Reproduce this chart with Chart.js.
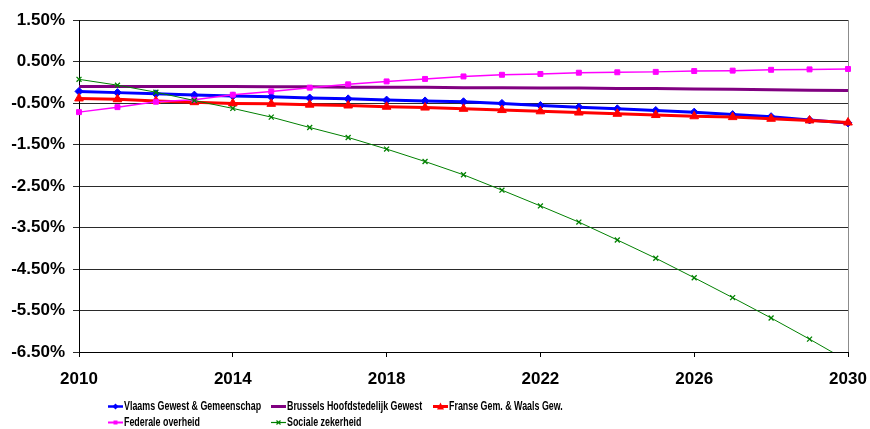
<!DOCTYPE html>
<html>
<head>
<meta charset="utf-8">
<script src="https://cdn.jsdelivr.net/npm/chart.js@4.4.1/dist/chart.umd.min.js"></script>
<style>
    html, body { margin: 0; padding: 0; background: #fff; }
    #wrap { position: relative; width: 870px; height: 429px; }
    #legend { position: absolute; left: 0; top: 0; width: 870px; height: 429px; pointer-events: none;
        font-family: 'Liberation Sans', Arial, sans-serif; font-weight: bold; font-size: 12.5px; color: #000; }
    .item { position: absolute; height: 14px; display: flex; align-items: center; white-space: nowrap; }
    .item svg { margin-right: 1px; flex: none; }
    .item span { display: inline-block; transform: scaleX(0.71); transform-origin: left center; }
</style>
</head>
<body>
<div id="wrap">
    <canvas id="chart" width="870" height="429"></canvas>
    <div id="legend"></div>
</div>
<script>
const years = ['2010', '2011', '2012', '2013', '2014', '2015', '2016', '2017', '2018', '2019', '2020',
    '2021', '2022', '2023', '2024', '2025', '2026', '2027', '2028', '2029', '2030'];

const vlaams = [-0.22, -0.25, -0.28, -0.31, -0.33, -0.35, -0.38, -0.40, -0.43, -0.45, -0.47,
    -0.51, -0.56, -0.60, -0.64, -0.68, -0.72, -0.78, -0.83, -0.91, -0.98];
const brussels = [-0.10, -0.10, -0.10, -0.10, -0.10, -0.11, -0.11, -0.12, -0.12, -0.12, -0.13,
    -0.13, -0.14, -0.14, -0.15, -0.15, -0.16, -0.17, -0.18, -0.19, -0.20];
const franse = [-0.39, -0.41, -0.45, -0.48, -0.51, -0.52, -0.54, -0.56, -0.59, -0.61, -0.64,
    -0.67, -0.70, -0.73, -0.76, -0.79, -0.82, -0.84, -0.88, -0.92, -0.97];
const federale = [-0.72, -0.60, -0.47, -0.42, -0.30, -0.22, -0.13, -0.05, 0.02, 0.08, 0.14,
    0.18, 0.20, 0.23, 0.24, 0.25, 0.27, 0.28, 0.30, 0.31, 0.32];
const sociale = [0.07, -0.07, -0.24, -0.44, -0.63, -0.84, -1.09, -1.33, -1.61, -1.91, -2.23,
    -2.60, -2.98, -3.37, -3.80, -4.24, -4.71, -5.19, -5.68, -6.19, -6.72];

const yMin = -6.5;
const yMax = 1.5;

const tickFont = { family: "'Liberation Sans', Arial, sans-serif", size: 17, weight: 'bold' };

const ctx = document.getElementById('chart').getContext('2d');

new Chart(ctx, {
    type: 'line',
    data: {
        labels: years,
        datasets: [{
            label: 'Vlaams Gewest & Gemeenschap',
            data: vlaams,
            borderColor: '#0000ff',
            backgroundColor: '#0000ff',
            borderWidth: 3,
            pointStyle: 'rectRot',
            pointRadius: 4,
            pointBorderWidth: 1,
            order: 5,
            clip: false
        }, {
            label: 'Brussels Hoofdstedelijk Gewest',
            data: brussels,
            borderColor: '#800080',
            backgroundColor: '#800080',
            borderWidth: 3,
            pointRadius: 0,
            order: 4,
            clip: false
        }, {
            label: 'Franse Gem. & Waals Gew.',
            data: franse,
            borderColor: '#ff0000',
            backgroundColor: '#ff0000',
            borderWidth: 3,
            pointStyle: 'triangle',
            pointRadius: 5,
            pointBorderWidth: 1,
            order: 3,
            clip: false
        }, {
            label: 'Federale overheid',
            data: federale,
            borderColor: '#ff00ff',
            backgroundColor: '#ff00ff',
            borderWidth: 1.5,
            pointStyle: 'rect',
            pointRadius: 3.5,
            pointBorderWidth: 1,
            order: 2,
            clip: false
        }, {
            label: 'Sociale zekerheid',
            data: sociale,
            borderColor: '#008000',
            backgroundColor: '#008000',
            borderWidth: 1,
            pointStyle: 'crossRot',
            pointRadius: 3.5,
            pointBorderWidth: 1.3,
            order: 1,
            clip: { left: 10, right: 10, top: 10, bottom: 0 }
        }]
    },
    options: {
        responsive: false,
        animation: false,
        layout: {
            padding: { left: 0, right: 22, top: 20, bottom: 37 }
        },
        plugins: {
            legend: { display: false },
            tooltip: { enabled: false }
        },
        elements: {
            line: { tension: 0 }
        },
        scales: {
            x: {
                type: 'category',
                offset: false,
                border: { color: '#000', width: 1 },
                grid: {
                    drawOnChartArea: true,
                    color: c => c.index === years.length - 1 ? '#8c8c8c' : 'rgba(0,0,0,0)',
                    tickColor: c => c.index % 4 === 0 ? '#000' : 'rgba(0,0,0,0)',
                    tickLength: 5
                },
                ticks: {
                    autoSkip: false,
                    maxRotation: 0,
                    padding: 12,
                    color: '#000',
                    font: tickFont,
                    callback: (v, i) => i % 4 === 0 ? years[i] : ''
                },
                afterFit: s => { s.height = 40; s.paddingLeft = 0; s.paddingRight = 0; }
            },
            y: {
                min: yMin,
                max: yMax,
                border: { color: '#000', width: 1 },
                grid: {
                    color: '#2a2a2a',
                    lineWidth: 1,
                    tickLength: 6
                },
                ticks: {
                    stepSize: 1,
                    padding: 8,
                    color: '#000',
                    font: tickFont,
                    callback: v => v.toFixed(2) + '%'
                },
                afterFit: s => { s.width = 79; s.paddingTop = 0; s.paddingBottom = 0; }
            }
        }
    }
});

// legend laid out in Excel-style columns
const legendCols = [108, 271, 433];
const legendRows = [406, 422];
const legendIcons = [
    { color: '#0000ff', width: 2.5, marker: 'diamond' },
    { color: '#800080', width: 3, marker: null },
    { color: '#ff0000', width: 3, marker: 'triangle' },
    { color: '#ff00ff', width: 2, marker: 'square' },
    { color: '#008000', width: 1.2, marker: 'cross' }
];
const legendNames = ['Vlaams Gewest & Gemeenschap', 'Brussels Hoofdstedelijk Gewest',
    'Franse Gem. & Waals Gew.', 'Federale overheid', 'Sociale zekerheid'];

function iconSvg(icon) {
    let m = '';
    const c = icon.color;
    if (icon.marker === 'diamond') m = `<polygon points="7.5,1.5 10.5,4.5 7.5,7.5 4.5,4.5" fill="${c}"/>`;
    if (icon.marker === 'triangle') m = `<polygon points="7.5,0.5 11,7.5 4,7.5" fill="${c}"/>`;
    if (icon.marker === 'square') m = `<rect x="5.5" y="2.5" width="4" height="4" fill="${c}"/>`;
    if (icon.marker === 'cross') m = `<path d="M5.5,2.5 L9.5,6.5 M9.5,2.5 L5.5,6.5" stroke="${c}" stroke-width="1.2"/>`;
    return `<svg width="15" height="9" viewBox="0 0 15 9"><line x1="0" y1="4.5" x2="15" y2="4.5" stroke="${c}" stroke-width="${icon.width}"/>${m}</svg>`;
}

const legendEl = document.getElementById('legend');
legendNames.forEach((name, i) => {
    const item = document.createElement('div');
    item.className = 'item';
    item.style.left = legendCols[i % 3] + 'px';
    item.style.top = (legendRows[Math.floor(i / 3)] - 7) + 'px';
    item.innerHTML = iconSvg(legendIcons[i]) + '<span>' + name + '</span>';
    legendEl.appendChild(item);
});
</script>
</body>
</html>
